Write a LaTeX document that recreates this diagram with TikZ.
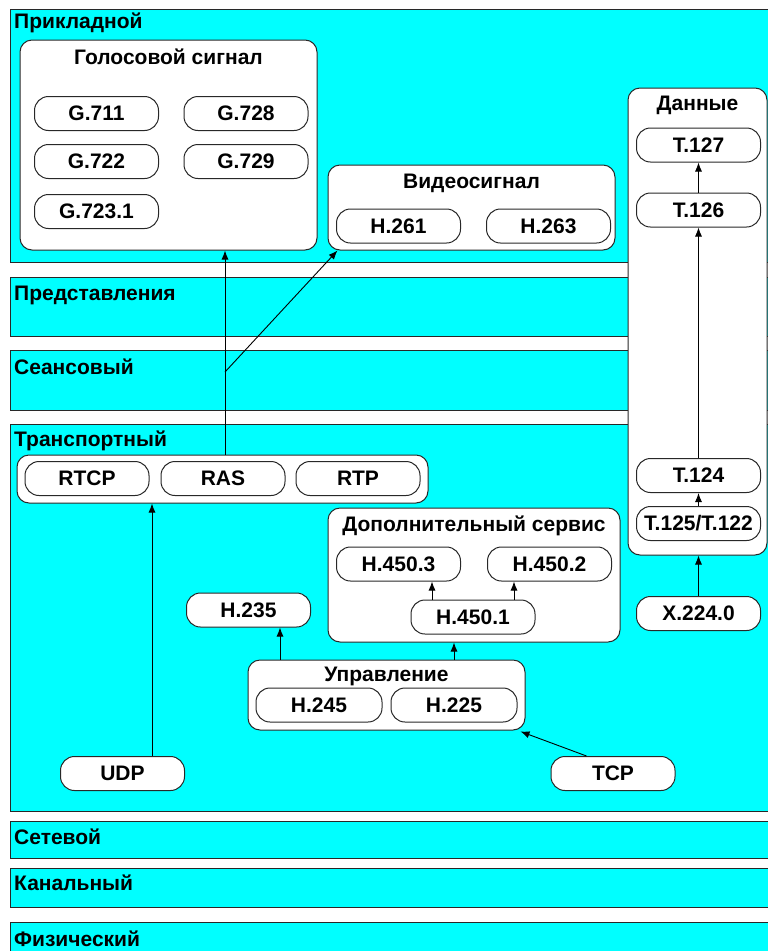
\documentclass[tikz,border=0pt]{standalone}
\usepackage{fontspec}
\setmainfont{Liberation Sans}
\usetikzlibrary{arrows.meta,calc}
\definecolor{cy}{RGB}{0,255,255}
\definecolor{edge}{RGB}{40,40,40}
\begin{document}
\begin{tikzpicture}[x=1pt,y=-1pt,
  band/.style={draw=edge,line width=1pt,fill=cy},
  lay/.style={anchor=west,font=\bfseries\fontsize{21}{25}\selectfont,inner sep=0pt},
  grp/.style={draw=edge,line width=1pt,fill=white,rounded corners=12pt,inner sep=0pt},
  pill/.style={draw=edge,line width=1pt,fill=white,rounded corners=14pt,minimum width=124pt,minimum height=34pt,font=\bfseries\fontsize{21}{25}\selectfont,inner sep=0pt},
  ttl/.style={font=\bfseries\fontsize{21}{25}\selectfont,inner sep=0pt},
  arr/.style={-{Latex[length=9pt,width=7pt]},line width=0.9pt,draw=black}]
\useasboundingbox (0,0) rectangle (768,951);
\clip (0,0) rectangle (768,951);
% layer bands
\path[band] (10,9) rectangle (790,262);
\path[band] (10,277) rectangle (790,336);
\path[band] (10,350) rectangle (790,410);
\path[band] (10,424) rectangle (790,811);
\path[band] (10,821) rectangle (790,858);
\path[band] (10,868) rectangle (790,907);
\path[band] (10,922) rectangle (790,970);
\node[lay] (lprik) at (14,23) {Прикладной};
\node[lay] (lpred) at (14,295) {Представления};
\node[lay] (lseans) at (14,367) {Сеансовый};
\node[lay] (ltrans) at (14,441) {Транспортный};
\node[lay] (lset) at (14,837) {Сетевой};
\node[lay] (lkan) at (14,883) {Канальный};
\node[lay] (lfiz) at (14,939) {Физический};
% voice group
\node[grp,minimum width=297pt,minimum height=210pt] (voice) at (168.5,145) {};
\node[ttl,anchor=north] (voicet) at ($(voice.north)+(0,9)$) {Голосовой сигнал};
\node[pill] (g711) at (96.5,113.5) {G.711};
\node[pill] (g728) at (246,113.5) {G.728};
\node[pill] (g722) at (96.5,161.5) {G.722};
\node[pill] (g729) at (246,161.5) {G.729};
\node[pill] (g7231) at (96.5,211.5) {G.723.1};
% video group
\node[grp,minimum width=287pt,minimum height=85pt] (video) at (471.5,207.5) {};
\node[ttl,anchor=north] (videot) at ($(video.north)+(0,9)$) {Видеосигнал};
\node[pill] (h261) at (398.5,226) {H.261};
\node[pill] (h263) at (548.5,226) {H.263};
% data group
\node[grp,minimum width=139pt,minimum height=467pt] (data) at (697.5,321.5) {};
\node[ttl,anchor=north] (datat) at ($(data.north)+(0,8)$) {Данные};
\node[pill] (t127) at (698.5,145) {T.127};
\node[pill] (t126) at (698.5,210) {T.126};
\node[pill] (t124) at (698.5,475.5) {T.124};
\node[pill] (t125) at (698.5,523.5) {T.125/T.122};
\node[pill] (x224) at (698.5,613.5) {X.224.0};
% RTCP group
\node[grp,minimum width=411pt,minimum height=48pt] (rtgrp) at (222.5,479) {};
\node[pill] (rtcp) at (87,478.5) {RTCP};
\node[pill] (ras) at (223,478.5) {RAS};
\node[pill] (rtp) at (358,478.5) {RTP};
% supplementary services
\node[grp,minimum width=292pt,minimum height=134pt] (dop) at (474,575) {};
\node[ttl,anchor=north] (dopt) at ($(dop.north)+(0,8)$) {Дополнительный сервис};
\node[pill] (h4503) at (398.5,564) {H.450.3};
\node[pill] (h4502) at (549.5,564) {H.450.2};
\node[pill] (h4501) at (473,617) {H.450.1};
\node[pill] (h235) at (248.5,610) {H.235};
% control
\node[grp,minimum width=277pt,minimum height=70pt] (upr) at (386.5,695) {};
\node[ttl,anchor=north] (uprt) at ($(upr.north)+(0,7)$) {Управление};
\node[pill,minimum width=126pt] (h245) at (319,705) {H.245};
\node[pill,minimum width=126pt] (h225) at (454,705) {H.225};
\node[pill] (udp) at (122.5,773.5) {UDP};
\node[pill] (tcp) at (613,773.5) {TCP};
% connectors
\coordinate (br) at (225,372);
\draw[arr] (rtgrp.north -| br) -- (voice.south -| br);
\draw[arr] (br) -- ($(video.south west)+(10,0)$);
\draw[arr] (t126) -- (t127);
\draw[arr] (t124) -- (t126);
\draw[arr] (t125) -- (t124);
\draw[arr] (x224) -- (x224 |- data.south);
\coordinate (udpx) at (152,0);
\draw[arr] (udp.north -| udpx) -- (rtgrp.south -| udpx);
\coordinate (h235x) at (280,0);
\draw[arr] (upr.north -| h235x) -- (h235.south -| h235x);
\coordinate (dopx) at (454,0);
\draw[arr] (upr.north -| dopx) -- (dop.south -| dopx);
\coordinate (a3x) at (432,0);
\coordinate (a2x) at (514,0);
\draw[arr] (h4501.north -| a3x) -- (h4503.south -| a3x);
\draw[arr] (h4501.north -| a2x) -- (h4502.south -| a2x);
\draw[arr] ($(tcp.north west)+(36,0)$) -- ($(upr.south east)+(-5,1)$);
\end{tikzpicture}
\end{document}
